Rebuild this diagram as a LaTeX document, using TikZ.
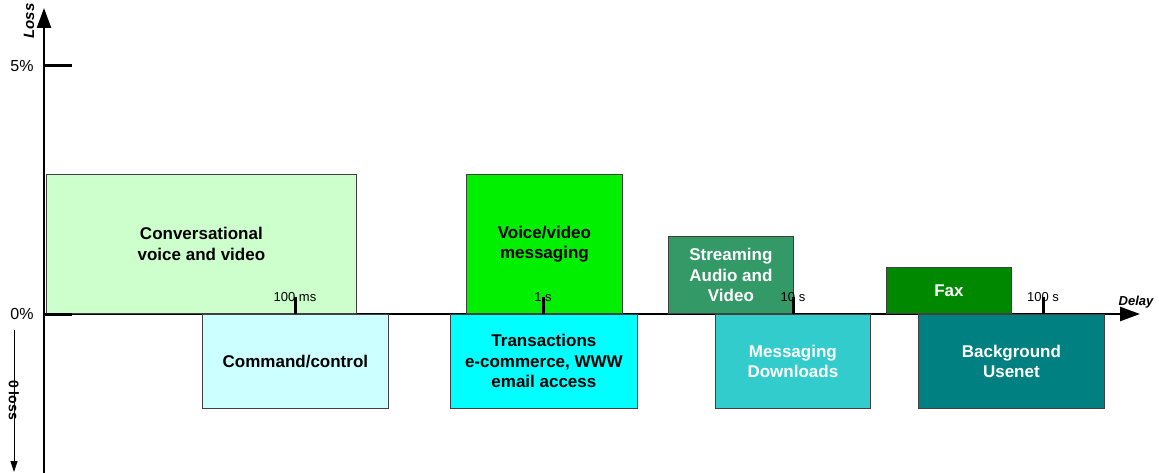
\documentclass[tikz,border=0pt]{standalone}
\usepackage{fontspec}
\setmainfont{Liberation Sans}
\usepackage{tikz}
\usetikzlibrary{arrows.meta, positioning}
\usepackage{xcolor}

\definecolor{convgreen}{HTML}{CCFFCC}
\definecolor{cmdcyan}{HTML}{CCFFFF}
\definecolor{vmsggreen}{HTML}{00F000}
\definecolor{transcyan}{HTML}{00FFFF}
\definecolor{streamgreen}{HTML}{339966}
\definecolor{msgteal}{HTML}{33CCCC}
\definecolor{faxgreen}{HTML}{008800}
\definecolor{bgndteal}{HTML}{008080}

\begin{document}
\begin{tikzpicture}[x=1pt, y=-1pt,
    box/.style={draw=black!75, line width=0.8pt, inner sep=0pt,
        align=center, font=\bfseries\fontsize{17}{20.5}\selectfont},
    axis/.style={line width=2.5pt, -{Triangle[length=20pt,width=14pt]}},
    tick/.style={line width=3pt},
    ticklabel/.style={font=\fontsize{13}{15}\selectfont, inner sep=0pt}]
    \useasboundingbox (0,0) rectangle (1159,473);
    % Axes
        \coordinate (origin) at (44,314);
        \coordinate (ytop) at (44,8);
        \coordinate (ybot) at (44,473);
        \coordinate (xend) at (1140,314);
        \draw[line width=2.5pt] (origin) -- (ybot);
        \draw[axis] (origin) -- (ytop);
        \draw[axis] (origin) -- (xend);
        \node[rotate=90,
            font=\bfseries\itshape\fontsize{15}{18}\selectfont
            ] (losslabel) at (29,21) {Loss};
        \node[font=\bfseries\itshape\fontsize{13}{15}\selectfont
            ] (delaylabel) at (1136,302) {Delay};
        \node[font=\fontsize{16}{18}\selectfont
            ] (five) at (22,66) {5\%};
        \node[font=\fontsize{16}{18}\selectfont
            ] (zero) at (22,314) {0\%};
        \coordinate (nolossbeg) at (14,330);
        \coordinate (nolossend) at (14,472);
        \draw[line width=0.8pt, -{Triangle[length=11pt,width=7pt]}] (nolossbeg) -- (nolossend);
        \node[rotate=-90,
            font=\bfseries\fontsize{14}{16}\selectfont
            ] (noloss) at (14,400) {0\ loss};

    % Boxes above the axis
        \node[box,
            fill=convgreen,
            minimum width=310pt, minimum height=139pt,
            anchor=south west
            ] (conv) at (46,314) {Conversational\\voice and video};
        \node[box,
            fill=vmsggreen,
            minimum width=156pt, minimum height=139pt,
            anchor=south west
            ] (vmsg) at (466,314) {Voice/video\\messaging};
        \node[box,
            fill=streamgreen,
            text=white,
            minimum width=125pt, minimum height=77pt,
            anchor=south west
            ] (stream) at (668,314) {Streaming\\Audio and\\Video};
        \node[box,
            fill=faxgreen,
            text=white,
            minimum width=125pt, minimum height=46pt,
            anchor=south west
            ] (fax) at (886,314) {Fax};

    % Boxes below the axis
        \node[box,
            fill=cmdcyan,
            minimum width=186pt, minimum height=94pt,
            anchor=north west
            ] (cmd) at (202,314) {Command/control};
        \node[box,
            fill=transcyan,
            minimum width=187pt, minimum height=94pt,
            anchor=north west
            ] (trans) at (450,314) {Transactions\\e-commerce, WWW\\email access};
        \node[box,
            fill=msgteal,
            text=white,
            minimum width=155pt, minimum height=94pt,
            anchor=north west
            ] (msgdl) at (715,314) {Messaging\\Downloads};
        \node[box,
            fill=bgndteal,
            text=white,
            minimum width=186pt, minimum height=94pt,
            anchor=north west
            ] (bgnd) at (918,314) {Background\\Usenet};

    % Ticks
        \coordinate (y5) at (44,66);
        \coordinate (y5end) at (72,66);
        \coordinate (y0end) at (72,314);
        \draw[tick] (y5) -- (y5end);
        \draw[tick] (origin) -- (y0end);
        \node[ticklabel] (ms100) at (295,297) {100 ms};
        \node[ticklabel] (s1) at (543,297) {1 s};
        \node[ticklabel] (s10) at (793,297) {10 s};
        \node[ticklabel] (s100) at (1043,297) {100 s};
        \coordinate (t1) at (295,314);
        \coordinate (t2) at (543,314);
        \coordinate (t3) at (793,314);
        \coordinate (t4) at (1043,314);
        \draw[tick]
            (t1) -- ++(0,-17)
            (t2) -- ++(0,-17)
            (t3) -- ++(0,-17)
            (t4) -- ++(0,-17);
\end{tikzpicture}
\end{document}
